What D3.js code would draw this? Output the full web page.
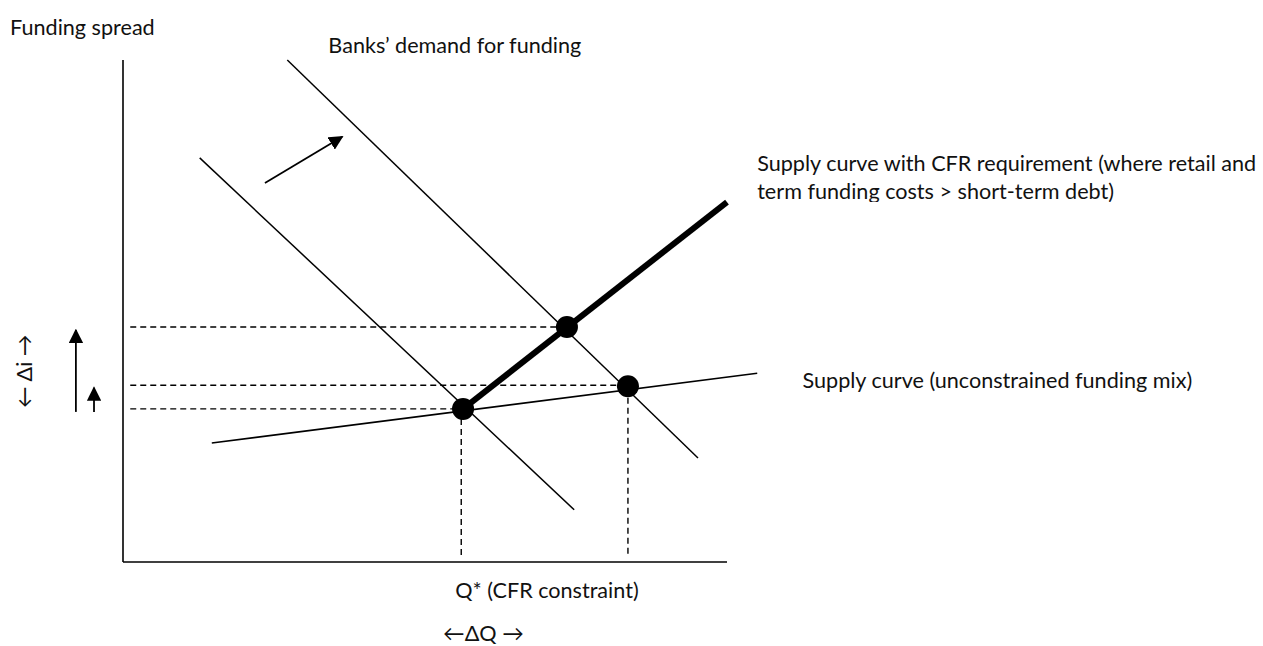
<!DOCTYPE html>
<html lang="en">
<head>
<meta charset="utf-8">
<title>Funding spread and CFR constraint</title>
<script src="https://cdn.jsdelivr.net/npm/d3@7/dist/d3.min.js"></script>
<style>
  body { margin: 0; background: #fff; }
  svg { display: block; }
  text { font-family: Lato, "Noto Sans", sans-serif; font-size: 21.6px; fill: #111; }
</style>
</head>
<body>
<div id="container"></div>
<script>
// schematic values, in abstract units (Q along x, spread along y)
var axisLines = [
  {name: "yAxis", pts: [[0, 10], [0, 0]]},
  {name: "xAxis", pts: [[0, 0], [10, 0]]}
];
var demandOld = [[1.27, 8.05], [7.47, 1.04]];
var demandNew = [[2.72, 10.0], [9.52, 2.07]];
var supplyFree = [[1.47, 2.37], [10.5, 3.76]];
var supplyCFR = [[5.63, 3.05], [10.0, 7.17]];
var equilibria = [[5.63, 3.05], [7.35, 4.68], [8.36, 3.50]];
var guideH = [[0.12, 4.68, 7.35], [0.12, 3.52, 8.36], [0.12, 3.05, 5.63]]; // [from x, y, to x]
var guideV = [[5.6, 3.05, 0.14], [8.36, 3.47, 0.14]];                     // [x, from y, to y]
var shiftArrow = [[2.35, 7.55], [3.63, 8.47]];
var riseArrows = [[-0.78, 2.99, 4.62], [-0.48, 2.99, 3.47]];              // [x, from y, to y]

var labels = [
  {text: "Funding spread", x: -1.87, y: 10.5},
  {text: "Banks\u2019 demand for funding", x: 3.4, y: 10.14},
  {text: "Supply curve with CFR requirement (where retail and", x: 10.5, y: 7.79},
  {text: "term funding costs > short-term debt)", x: 10.5, y: 7.23, clip: true},
  {text: "Supply curve (unconstrained funding mix)", x: 11.25, y: 3.47},
  {text: "Q* (CFR constraint)", x: 5.5, y: -0.72},
  {text: "\u2190\u0394Q \u2192", x: 5.3, y: -1.57}
];
var yLabel = {text: "\u2190 \u0394i \u2192", x: -1.5, y: 3.8};

var width = 1263, height = 646;

var x = d3.scaleLinear().domain([0, 10]).range([123, 727]);
var y = d3.scaleLinear().domain([0, 10]).range([562, 60]);

var svg = d3.select("#container").append("svg")
  .attr("width", width)
  .attr("height", height);

var defs = svg.append("defs");
defs.append("marker")
  .attr("id", "head")
  .attr("viewBox", "0 0 10 10")
  .attr("refX", 9).attr("refY", 5)
  .attr("markerWidth", 8).attr("markerHeight", 8)
  .attr("markerUnits", "strokeWidth")
  .attr("orient", "auto")
  .append("path").attr("d", "M0,0 L10,5 L0,10 Z").attr("fill", "#000");

// the second label line is cut off at its bottom in the source
defs.append("clipPath").attr("id", "cut")
  .append("rect").attr("x", 0).attr("y", 0).attr("width", width).attr("height", y(7.23) + 3);

var line = d3.line().x(function(d) { return x(d[0]); }).y(function(d) { return y(d[1]); });

// axes
svg.selectAll(".axis").data(axisLines).enter().append("path")
  .attr("class", "axis")
  .attr("d", function(d) { return line(d.pts); })
  .attr("fill", "none").attr("stroke", "#000").attr("stroke-width", 1.6);

// dashed guides
svg.selectAll(".gh").data(guideH).enter().append("line")
  .attr("x1", function(d) { return x(d[0]); })
  .attr("x2", function(d) { return x(d[2]); })
  .attr("y1", function(d) { return y(d[1]); })
  .attr("y2", function(d) { return y(d[1]); })
  .attr("stroke", "#000").attr("stroke-width", 1.4).attr("stroke-dasharray", "6,4");

svg.selectAll(".gv").data(guideV).enter().append("line")
  .attr("x1", function(d) { return x(d[0]); })
  .attr("x2", function(d) { return x(d[0]); })
  .attr("y1", function(d) { return y(d[1]); })
  .attr("y2", function(d) { return y(d[2]); })
  .attr("stroke", "#000").attr("stroke-width", 1.4).attr("stroke-dasharray", "6,4");

// curves
[demandOld, demandNew, supplyFree].forEach(function(c) {
  svg.append("path").attr("d", line(c))
    .attr("fill", "none").attr("stroke", "#000").attr("stroke-width", 1.5);
});
svg.append("path").attr("d", line(supplyCFR))
  .attr("fill", "none").attr("stroke", "#000").attr("stroke-width", 6);

// shift arrow
svg.append("path").attr("d", line(shiftArrow))
  .attr("fill", "none").attr("stroke", "#000").attr("stroke-width", 1.8)
  .attr("marker-end", "url(#head)");

svg.selectAll(".rise").data(riseArrows).enter().append("line")
  .attr("x1", function(d) { return x(d[0]); })
  .attr("x2", function(d) { return x(d[0]); })
  .attr("y1", function(d) { return y(d[1]); })
  .attr("y2", function(d) { return y(d[2]); })
  .attr("stroke", "#000").attr("stroke-width", 1.8)
  .attr("marker-end", "url(#head)");

// equilibrium points
svg.selectAll(".pt").data(equilibria).enter().append("circle")
  .attr("cx", function(d) { return x(d[0]); })
  .attr("cy", function(d) { return y(d[1]); })
  .attr("r", 11).attr("fill", "#000");

// text
svg.selectAll(".lbl").data(labels).enter().append("text")
  .attr("x", function(d) { return x(d.x); })
  .attr("y", function(d) { return y(d.y); })
  .attr("clip-path", function(d) { return d.clip ? "url(#cut)" : null; })
  .text(function(d) { return d.text; });

svg.append("text")
  .attr("transform", "translate(" + x(yLabel.x) + "," + y(yLabel.y) + ") rotate(-90)")
  .attr("text-anchor", "middle")
  .text(yLabel.text);
</script>
</body>
</html>
